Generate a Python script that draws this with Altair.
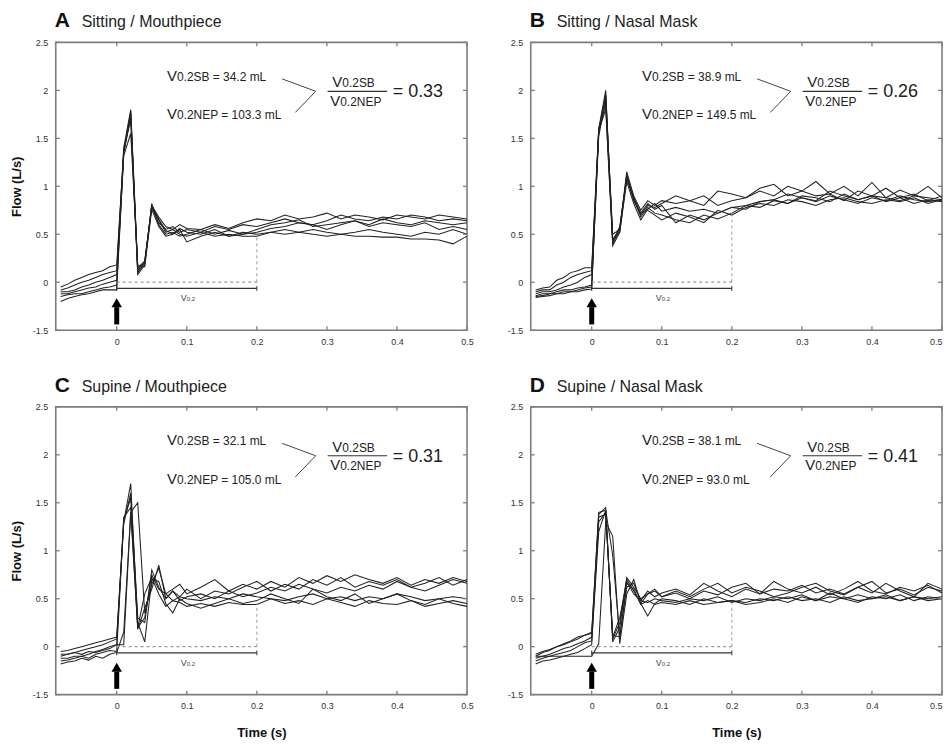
import altair as alt
import pandas as pd

# ---------------- data ----------------
T = [-0.08, -0.07, -0.06, -0.05, -0.04, -0.03, -0.02, -0.01, 0.00,
     0.01, 0.02, 0.03, 0.04, 0.05, 0.06, 0.07, 0.08, 0.09, 0.10,
     0.12, 0.14, 0.16, 0.18, 0.20, 0.22, 0.24, 0.26, 0.28, 0.30,
     0.32, 0.34, 0.36, 0.38, 0.40, 0.42, 0.44, 0.46, 0.48, 0.50]

A1 = [-0.05, -0.02, 0.02, 0.05, 0.08, 0.10, 0.12, 0.16, 0.18,
      1.35, 1.78, 0.10, 0.20, 0.80, 0.68, 0.58, 0.55, 0.60, 0.56,
      0.55, 0.60, 0.56, 0.62, 0.66, 0.64, 0.70, 0.66, 0.68, 0.72, 0.66, 0.70, 0.68, 0.65, 0.70, 0.68, 0.66, 0.70, 0.68, 0.66]
A2 = [-0.08, -0.06, -0.03, 0.00, 0.02, 0.05, 0.08, 0.10, 0.12,
      1.40, 1.80, 0.15, 0.22, 0.78, 0.62, 0.55, 0.58, 0.52, 0.55,
      0.52, 0.58, 0.55, 0.60, 0.58, 0.62, 0.66, 0.62, 0.60, 0.64, 0.70, 0.66, 0.64, 0.68, 0.66, 0.70, 0.68, 0.64, 0.66, 0.64]
A3 = [-0.10, -0.10, -0.08, -0.05, -0.03, 0.00, 0.02, 0.05, 0.08,
      1.38, 1.72, 0.08, 0.18, 0.82, 0.60, 0.50, 0.52, 0.48, 0.50,
      0.55, 0.50, 0.54, 0.50, 0.55, 0.60, 0.62, 0.65, 0.58, 0.60, 0.62, 0.64, 0.60, 0.66, 0.62, 0.60, 0.64, 0.62, 0.60, 0.62]
A4 = [-0.12, -0.12, -0.10, -0.08, -0.06, -0.05, -0.02, 0.00, 0.02,
      1.32, 1.55, 0.18, 0.16, 0.76, 0.58, 0.48, 0.50, 0.55, 0.42,
      0.48, 0.52, 0.48, 0.50, 0.52, 0.56, 0.58, 0.62, 0.60, 0.55, 0.60, 0.64, 0.58, 0.62, 0.60, 0.58, 0.62, 0.55, 0.58, 0.55]
A5 = [-0.15, -0.13, -0.12, -0.12, -0.10, -0.08, -0.06, -0.05, -0.03,
      1.36, 1.70, 0.12, 0.22, 0.79, 0.65, 0.52, 0.55, 0.50, 0.48,
      0.52, 0.48, 0.50, 0.48, 0.48, 0.52, 0.55, 0.52, 0.55, 0.52, 0.50, 0.52, 0.55, 0.52, 0.50, 0.48, 0.52, 0.50, 0.55, 0.50]
A6 = [-0.20, -0.17, -0.15, -0.13, -0.12, -0.10, -0.08, -0.08, -0.08,
      1.34, 1.76, 0.14, 0.20, 0.80, 0.66, 0.54, 0.50, 0.56, 0.52,
      0.50, 0.55, 0.48, 0.52, 0.50, 0.52, 0.50, 0.52, 0.50, 0.48, 0.50, 0.48, 0.48, 0.47, 0.47, 0.45, 0.45, 0.44, 0.40, 0.48]

B1 = [-0.08, -0.06, -0.05, 0.02, 0.05, 0.10, 0.12, 0.15, 0.15,
      1.60, 2.00, 0.40, 0.55, 1.15, 0.90, 0.75, 0.85, 0.80, 0.85,
      0.82, 0.85, 0.90, 0.80, 0.85, 0.88, 0.95, 0.90, 1.00, 0.95, 0.90, 0.92, 0.85, 0.95, 0.90, 0.98, 0.88, 0.92, 0.85, 0.90]
B2 = [-0.10, -0.08, -0.08, -0.03, 0.00, 0.05, 0.08, 0.10, 0.12,
      1.55, 1.95, 0.45, 0.52, 1.10, 0.85, 0.70, 0.80, 0.78, 0.82,
      0.90, 0.85, 0.80, 0.95, 0.92, 0.88, 0.98, 1.02, 0.90, 0.95, 1.05, 0.92, 1.00, 0.90, 1.04, 0.88, 0.96, 0.90, 1.00, 0.88]
B3 = [-0.12, -0.10, -0.10, -0.08, -0.05, -0.03, 0.00, 0.05, 0.08,
      1.58, 1.80, 0.42, 0.58, 1.08, 0.88, 0.68, 0.78, 0.72, 0.70,
      0.65, 0.62, 0.70, 0.66, 0.72, 0.80, 0.78, 0.85, 0.82, 0.88, 0.84, 0.90, 0.86, 0.82, 0.88, 0.85, 0.90, 0.86, 0.84, 0.86]
B4 = [-0.14, -0.12, -0.12, -0.10, -0.08, -0.08, -0.06, -0.05, -0.03,
      1.52, 1.90, 0.50, 0.55, 1.12, 0.86, 0.72, 0.75, 0.70, 0.65,
      0.72, 0.68, 0.62, 0.75, 0.70, 0.78, 0.82, 0.80, 0.86, 0.84, 0.80, 0.86, 0.88, 0.84, 0.82, 0.86, 0.84, 0.88, 0.82, 0.86]
B5 = [-0.15, -0.14, -0.12, -0.12, -0.10, -0.10, -0.08, -0.06, -0.05,
      1.60, 1.85, 0.38, 0.52, 1.05, 0.82, 0.65, 0.76, 0.82, 0.74,
      0.78, 0.74, 0.76, 0.72, 0.78, 0.80, 0.84, 0.86, 0.82, 0.90, 0.88, 0.84, 0.92, 0.86, 0.90, 0.84, 0.88, 0.82, 0.86, 0.84]
B6 = [-0.16, -0.15, -0.14, -0.12, -0.12, -0.10, -0.10, -0.08, -0.07,
      1.58, 1.95, 0.44, 0.56, 1.10, 0.88, 0.72, 0.82, 0.76, 0.80,
      0.62, 0.70, 0.65, 0.72, 0.78, 0.76, 0.84, 0.86, 0.92, 0.88, 0.85, 0.95, 0.90, 0.86, 0.90, 0.88, 0.85, 0.90, 0.88, 0.86]

C1 = [-0.05, -0.04, -0.02, 0.00, 0.02, 0.04, 0.06, 0.08, 0.10,
      1.30, 1.70, 0.20, 0.30, 0.75, 0.60, 0.55, 0.60, 0.65, 0.55,
      0.62, 0.70, 0.58, 0.65, 0.60, 0.68, 0.62, 0.72, 0.66, 0.74, 0.68, 0.75, 0.70, 0.66, 0.72, 0.64, 0.70, 0.66, 0.72, 0.68]
C2 = [-0.10, -0.08, -0.06, -0.04, -0.02, 0.00, 0.02, 0.05, 0.08,
      1.28, 1.60, 0.30, 0.25, 0.80, 0.62, 0.50, 0.58, 0.52, 0.60,
      0.50, 0.58, 0.55, 0.62, 0.68, 0.58, 0.65, 0.60, 0.70, 0.64, 0.72, 0.62, 0.68, 0.64, 0.70, 0.62, 0.66, 0.72, 0.64, 0.70]
C3 = [-0.12, -0.12, -0.10, -0.10, -0.08, -0.05, -0.03, 0.00, 0.02,
      0.02, 1.40, 1.50, 0.35, 0.65, 0.82, 0.55, 0.48, 0.52, 0.50,
      0.48, 0.52, 0.50, 0.55, 0.52, 0.50, 0.48, 0.52, 0.55, 0.50, 0.52, 0.48, 0.52, 0.50, 0.55, 0.52, 0.48, 0.50, 0.52, 0.50]
C4 = [-0.15, -0.14, -0.12, -0.10, -0.12, -0.08, -0.06, -0.04, -0.05,
      1.32, 1.55, 0.25, 0.05, 0.70, 0.68, 0.45, 0.35, 0.50, 0.45,
      0.40, 0.45, 0.50, 0.45, 0.48, 0.55, 0.50, 0.45, 0.60, 0.52, 0.48, 0.55, 0.45, 0.50, 0.55, 0.48, 0.44, 0.50, 0.45, 0.42]
C5 = [-0.18, -0.16, -0.15, -0.12, -0.14, -0.10, -0.12, -0.08, -0.06,
      0.15, 1.40, 0.20, 0.55, 0.72, 0.55, 0.42, 0.48, 0.46, 0.42,
      0.45, 0.42, 0.46, 0.44, 0.44, 0.50, 0.45, 0.48, 0.44, 0.50, 0.46, 0.42, 0.48, 0.45, 0.44, 0.48, 0.42, 0.45, 0.48, 0.45]
C6 = [-0.08, -0.08, -0.06, -0.08, -0.05, -0.06, -0.04, -0.02, 0.02,
      1.35, 1.45, 0.18, 0.40, 0.60, 0.85, 0.50, 0.58, 0.48, 0.52,
      0.55, 0.50, 0.58, 0.52, 0.56, 0.62, 0.58, 0.65, 0.60, 0.56, 0.62, 0.58, 0.64, 0.60, 0.68, 0.62, 0.58, 0.64, 0.70, 0.66]

D1 = [-0.10, -0.06, -0.04, 0.00, 0.02, 0.05, 0.08, 0.12, 0.15,
      1.38, 1.45, 0.05, 0.20, 0.70, 0.58, 0.45, 0.55, 0.58, 0.52,
      0.56, 0.50, 0.58, 0.54, 0.62, 0.66, 0.55, 0.60, 0.58, 0.64, 0.56, 0.60, 0.55, 0.62, 0.56, 0.66, 0.58, 0.52, 0.66, 0.60]
D2 = [-0.12, -0.10, -0.08, -0.05, -0.02, 0.00, 0.03, 0.06, 0.10,
      1.30, 1.40, 0.10, 0.30, 0.68, 0.55, 0.48, 0.58, 0.52, 0.56,
      0.60, 0.54, 0.66, 0.58, 0.52, 0.60, 0.55, 0.68, 0.60, 0.56, 0.62, 0.54, 0.60, 0.68, 0.58, 0.55, 0.62, 0.58, 0.64, 0.56]
D3 = [-0.15, -0.12, -0.10, -0.08, -0.06, -0.04, 0.00, 0.04, 0.06,
      1.20, 1.42, 0.95, 0.10, 0.62, 0.66, 0.48, 0.46, 0.50, 0.48,
      0.46, 0.50, 0.48, 0.52, 0.46, 0.50, 0.48, 0.52, 0.50, 0.54, 0.48, 0.52, 0.50, 0.54, 0.50, 0.52, 0.48, 0.52, 0.50, 0.52]
D4 = [-0.18, -0.15, -0.14, -0.12, -0.10, -0.08, -0.06, -0.02, 0.02,
      1.35, 1.38, 0.12, 0.10, 0.66, 0.60, 0.44, 0.48, 0.44, 0.46,
      0.44, 0.48, 0.44, 0.46, 0.48, 0.46, 0.50, 0.48, 0.52, 0.48, 0.50, 0.46, 0.52, 0.48, 0.50, 0.54, 0.48, 0.52, 0.48, 0.50]
D5 = [-0.10, -0.10, -0.10, -0.10, -0.10, -0.10, -0.10, -0.10, -0.10,
      0.03, 1.30, 1.15, 0.03, 0.55, 0.70, 0.45, 0.32, 0.45, 0.50,
      0.48, 0.44, 0.50, 0.46, 0.48, 0.44, 0.46, 0.50, 0.46, 0.52, 0.48, 0.56, 0.50, 0.46, 0.52, 0.50, 0.54, 0.48, 0.52, 0.50]
D6 = [-0.08, -0.05, -0.03, 0.00, 0.03, 0.06, 0.10, 0.12, 0.14,
      1.40, 1.42, 0.08, 0.25, 0.72, 0.62, 0.50, 0.55, 0.60, 0.52,
      0.58, 0.52, 0.60, 0.66, 0.56, 0.62, 0.58, 0.52, 0.56, 0.62, 0.66, 0.58, 0.54, 0.62, 0.68, 0.56, 0.60, 0.54, 0.62, 0.58]

TRACES = {"A": [A1, A2, A3, A4, A5, A6],
          "B": [B1, B2, B3, B4, B5, B6],
          "C": [C1, C2, C3, C4, C5, C6],
          "D": [D1, D2, D3, D4, D5, D6]}

PANELS = ["A", "B", "C", "D"]
TITLES = ["Sitting / Mouthpiece", "Sitting / Nasal Mask",
          "Supine / Mouthpiece", "Supine / Nasal Mask"]
V_SB = ["34.2", "38.9", "32.1", "38.1"]
V_NEP = ["103.3", "149.5", "105.0", "93.0"]
RATIO = ["0.33", "0.26", "0.31", "0.41"]
PLATEAU = [0.47, 0.72, 0.45, 0.45]
WINDOW = 0.2

XTICKS = [0, 0.1, 0.2, 0.3, 0.4, 0.5]
XTICK_LABELS = ["0", "0.1", "0.2", "0.3", "0.4", "0.5"]
YTICKS = [-0.5, 0, 0.5, 1, 1.5, 2, 2.5]
YTICK_LABELS = ["-1.5", "0", "0.5", "1", "1.5", "2", "2.5"]

# ---------------- styling ----------------
W, H = 413, 289
FONT = "Liberation Sans"
NARROW = "Liberation Sans Narrow, Liberation Sans"
FRAME = "#7d7d7d"
INK = "#222222"
TICK_LEN = 4

xs = alt.Scale(domain=[-0.087, 0.5], nice=False, zero=False)
ys = alt.Scale(domain=[-0.5, 2.5], nice=False, zero=False)


def label_expr(values, labels):
    expr = "''"
    for v, l in zip(values, labels):
        expr = f"abs(datum.value - ({v})) < 1e-6 ? '{l}' : ({expr})"
    return expr


def X(field, **kw):
    return alt.X(field, type="quantitative", scale=xs, **kw)


def Y(field, **kw):
    return alt.Y(field, type="quantitative", scale=ys, **kw)


def panel(i, left, bottom):
    L = PANELS[i]
    rows = []
    for k, series in enumerate(TRACES[L]):
        for t, v in zip(T, series):
            rows.append({"x": t, "y": v, "trace": k})
    tdf = pd.DataFrame(rows)

    # right-hand panels sit against the page edge: keep their last label inside
    xaxis = alt.Axis(values=XTICKS, labelExpr=label_expr(XTICKS, XTICK_LABELS),
                     title="Time (s)" if bottom else "", labelPadding=7,
                     labelFlush=not left, labelOverlap=False, titlePadding=16)
    yaxis = alt.Axis(values=YTICKS, labelExpr=label_expr(YTICKS, YTICK_LABELS),
                     title="Flow (L/s)" if left else "", labelPadding=8,
                     labelFlush=False, labelOverlap=False, titlePadding=9)

    lines = alt.Chart(tdf).mark_line(color=INK, strokeWidth=1.05).encode(
        x=alt.X("x:Q", scale=xs, axis=xaxis),
        y=alt.Y("y:Q", scale=ys, axis=yaxis),
        detail="trace:N",
    )

    # V0.2 window guides
    hdash = alt.Chart(pd.DataFrame({"x": [0], "x2": [WINDOW], "y": [0]})).mark_rule(
        color="#9a9a9a", strokeDash=[3, 3], strokeWidth=1.2).encode(x=X("x"), x2="x2", y=Y("y"))
    vdash = alt.Chart(pd.DataFrame({"x": [WINDOW], "y": [0], "y2": [PLATEAU[i]]})).mark_rule(
        color="#9a9a9a", strokeDash=[3, 3], strokeWidth=1).encode(x=X("x"), y=Y("y"), y2="y2")
    bracket = alt.Chart(pd.DataFrame({"x": [0], "x2": [WINDOW], "y": [-0.065]})).mark_rule(
        color="#333", strokeWidth=1.2).encode(x=X("x"), x2="x2", y=Y("y"))
    caps = alt.Chart(pd.DataFrame({"x": [0, WINDOW], "y": [-0.09, -0.09], "y2": [-0.04, -0.04]})).mark_rule(
        color="#333", strokeWidth=1).encode(x=X("x"), y=Y("y"), y2="y2")
    wv = alt.Chart(pd.DataFrame({"x": [WINDOW / 2], "y": [-0.2], "t": ["V"]})).mark_text(
        align="right", baseline="alphabetic", font=FONT, fontSize=9, color="#444").encode(
        x=X("x"), y=Y("y"), text="t:N")
    wsub = alt.Chart(pd.DataFrame({"x": [WINDOW / 2], "y": [-0.2], "t": ["0.2"]})).mark_text(
        align="left", baseline="alphabetic", font=FONT, fontSize=6, color="#444").encode(
        x=X("x"), y=Y("y"), text="t:N")

    # arrow at onset
    shaft = alt.Chart(pd.DataFrame({"x": [0], "y": [-0.44], "y2": [-0.26]})).mark_rule(
        color="#000", strokeWidth=5).encode(x=X("x"), y=Y("y"), y2="y2")
    head = alt.Chart(pd.DataFrame({"x": [0], "y": [-0.215]})).mark_point(
        shape="triangle-up", filled=True, size=110, color="#000", opacity=1).encode(x=X("x"), y=Y("y"))

    # annotation texts
    bigV = alt.Chart(pd.DataFrame({"x": [0.086, 0.086, 0.322, 0.319],
                                   "y": [2.10, 1.70, 2.03, 1.84],
                                   "s": [15, 15, 15, 15],
                                   "t": ["V", "V", "V", "V"]})).mark_text(
        align="right", baseline="alphabetic", font=FONT, color=INK).encode(
        x=X("x"), y=Y("y"), text="t:N", size=alt.Size("s:Q", scale=None, legend=None))
    subs = alt.Chart(pd.DataFrame({"x": [0.086, 0.086, 0.322, 0.319],
                                   "y": [2.10, 1.70, 2.03, 1.84],
                                   "s": [12, 12, 12, 12],
                                   "t": [f"0.2SB = {V_SB[i]} mL", f"0.2NEP = {V_NEP[i]} mL",
                                         "0.2SB", "0.2NEP"]})).mark_text(
        align="left", baseline="alphabetic", font=NARROW, color=INK).encode(
        x=X("x"), y=Y("y"), text="t:N", size=alt.Size("s:Q", scale=None, legend=None))
    ratio = alt.Chart(pd.DataFrame({"x": [0.394], "y": [1.93], "t": [f"= {RATIO[i]}"]})).mark_text(
        align="left", baseline="alphabetic", font=FONT, fontSize=18, color=INK).encode(
        x=X("x"), y=Y("y"), text="t:N")
    connector = alt.Chart(pd.DataFrame({"x": [0.236, 0.284, 0.255], "y": [2.12, 1.99, 1.77],
                                        "o": [0, 1, 2]})).mark_line(color="#444", strokeWidth=1).encode(
        x=X("x"), y=Y("y"), order="o:Q")
    fracline = alt.Chart(pd.DataFrame({"x": [0.301], "x2": [0.386], "y": [1.99]})).mark_rule(
        color="#333", strokeWidth=1.2).encode(x=X("x"), x2="x2", y=Y("y"))

    # inward frame ticks
    xt = pd.DataFrame({"x": XTICKS})
    yt = pd.DataFrame({"y": YTICKS})
    xt_top = alt.Chart(xt).mark_rule(color=FRAME, strokeWidth=1.3).encode(
        x=X("x"), y=alt.value(0), y2=alt.value(TICK_LEN))
    xt_bot = alt.Chart(xt).mark_rule(color=FRAME, strokeWidth=1.3).encode(
        x=X("x"), y=alt.value(H), y2=alt.value(H - TICK_LEN))
    yt_left = alt.Chart(yt).mark_rule(color=FRAME, strokeWidth=1.3).encode(
        y=Y("y"), x=alt.value(0), x2=alt.value(TICK_LEN))
    yt_right = alt.Chart(yt).mark_rule(color=FRAME, strokeWidth=1.3).encode(
        y=Y("y"), x=alt.value(W), x2=alt.value(W - TICK_LEN))

    # panel heading: bold letter + condition
    letter = alt.Chart(pd.DataFrame({"t": [L]})).mark_text(
        align="left", baseline="alphabetic", font=FONT, fontSize=21, fontWeight="bold",
        color="#111").encode(x=alt.value(-1), y=alt.value(-15), text="t:N")
    heading = alt.Chart(pd.DataFrame({"t": [TITLES[i]]})).mark_text(
        align="left", baseline="alphabetic", font=FONT, fontSize=16,
        color="#222").encode(x=alt.value(26), y=alt.value(-15), text="t:N")

    return alt.layer(
        lines, hdash, vdash, bracket, caps, wv, wsub, shaft, head,
        connector, fracline, bigV, subs, ratio,
        xt_top, xt_bot, yt_left, yt_right, letter, heading,
    ).properties(width=W, height=H)


row1 = alt.hconcat(panel(0, True, False), panel(1, False, False), spacing=31)
row2 = alt.hconcat(panel(2, True, True), panel(3, False, True), spacing=31)
chart = alt.vconcat(row1, row2, spacing=27).properties(
    padding={"left": 9, "top": 8, "right": 0, "bottom": 0},
    background="white",
).configure_view(stroke=FRAME, strokeWidth=1.6).configure_axis(
    grid=False, ticks=False, domain=False,
    labelFont=FONT, labelFontSize=9, labelColor="#333",
    titleFont=FONT, titleFontSize=13, titleFontWeight="bold", titleColor="#111",
)

chart.save("out.html", embed_options={"renderer": "svg", "actions": False})
